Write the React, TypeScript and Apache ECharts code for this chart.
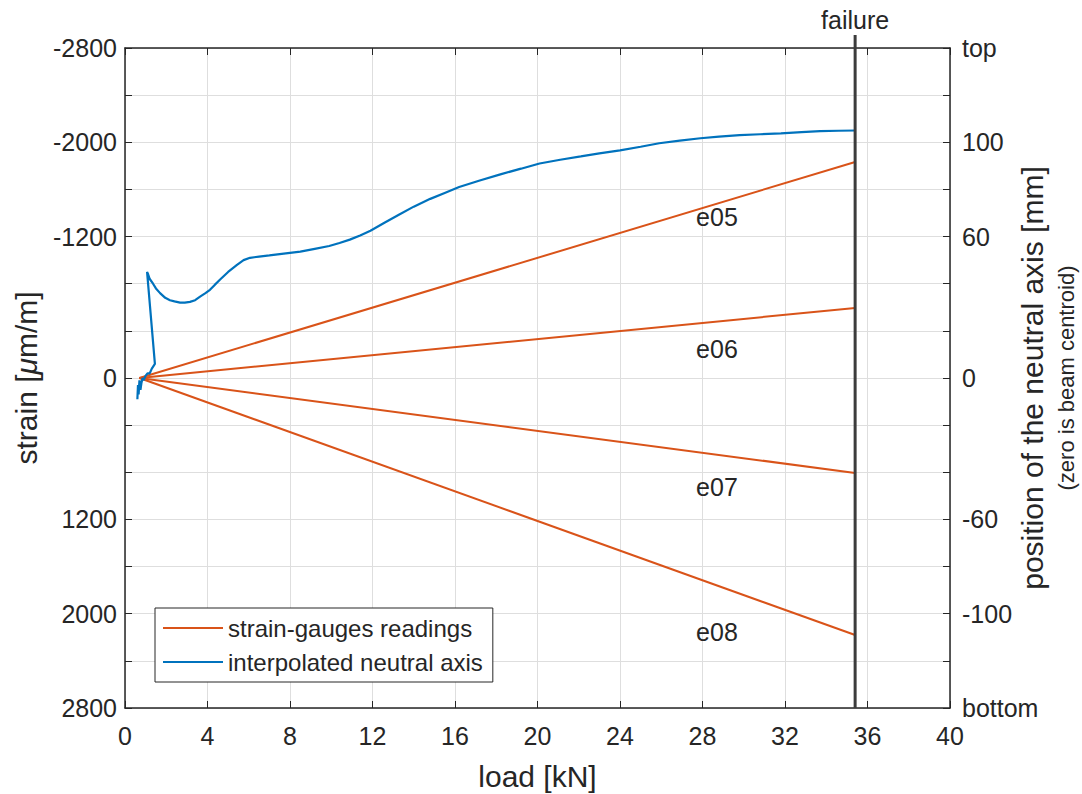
import React, { useEffect, useRef } from 'react';
import * as echarts from 'echarts';

// ---- data ----
const strainLabelValues = [-2800, -2000, -1200, 0, 1200, 2000, 2800];
const positionLabelValues = [-140, -100, -60, 0, 60, 100, 140];
const positionLabelTexts = ['bottom', '-100', '-60', '0', '60', '100', 'top'];

const gaugeNames = ['e05', 'e06', 'e07', 'e08'];
const gaugeStartLoad = 0.7;
const gaugeEndLoad = 35.4;
const gaugeStartStrain = [0, 0, 0, 0];
const gaugeEndStrain = [-1833, -594, 806, 2181];
const gaugeLabelLoad = 28.7;
const gaugeLabelStrain = [-1366, -246, 925, 2155];

const failureLoad = 35.4;
const failureTopStrain = -2910;
const failureBottomStrain = 2800;

const naLoad = [0.6, 0.63, 0.66, 0.7, 0.75, 0.8, 0.85, 0.9, 1.0, 1.1, 1.2, 1.3, 1.45, 1.07, 1.12, 1.2, 1.36, 1.5, 1.7, 1.95, 2.18, 2.4, 2.67, 2.9, 3.15, 3.4, 3.64, 3.9, 4.12, 4.35, 4.6, 5.0, 5.43, 5.75, 6.06, 6.5, 7.0, 7.7, 8.5, 9.2, 9.9, 10.4, 10.9, 11.4, 11.9, 12.6, 13.3, 14.0, 14.8, 15.5, 16.2, 17.2, 18.2, 19.2, 20.1, 21.1, 22.1, 23.0, 24.0, 25.0, 25.9, 26.9, 27.9, 28.8, 29.8, 30.8, 31.8, 32.8, 33.7, 34.6, 35.4];
const naPos = [-9, -3, -7, -1, -5, -2, 0, -1, 1, 2, 2, 4, 6, 45, 44, 42, 40, 38, 36, 34, 33, 32.5, 32, 32, 32.3, 33, 34.5, 36, 37.4, 39.5, 41.7, 45, 48, 50, 51, 51.5, 52, 52.8, 53.6, 54.8, 56, 57.3, 58.7, 60.5, 62.5, 66, 69.4, 72.7, 76, 78.5, 81, 83.8, 86.4, 88.8, 91, 92.6, 94, 95.3, 96.6, 98.1, 99.6, 100.7, 101.7, 102.4, 103, 103.4, 103.8, 104.3, 104.7, 104.9, 105];

const ORANGE = '#D95319';
const BLUE = '#0072BD';
const INK = '#262626';
const GRID = '#dedede';
const FONT = '"Liberation Sans", Arial, Helvetica, sans-serif';

export default function App() {
  const ref = useRef<HTMLDivElement>(null);
  useEffect(() => {
    if (!ref.current) return;
    const chart = echarts.init(ref.current, undefined, { renderer: 'svg' });
    const tickStyle = { show: true, inside: true, length: 7, lineStyle: { color: INK, width: 1 } };
    const gaugeSeries = gaugeNames.map((n, i) => ({
      type: 'line',
      name: 'strain-gauges readings',
      xAxisIndex: 0,
      yAxisIndex: 0,
      symbol: 'none',
      lineStyle: { color: ORANGE, width: 2 },
      itemStyle: { color: ORANGE },
      data: [[gaugeStartLoad, gaugeStartStrain[i]], [gaugeEndLoad, gaugeEndStrain[i]]],
      z: 3,
    }));
    const option: any = {
      animation: false,
      backgroundColor: '#ffffff',
      textStyle: { fontFamily: FONT, color: INK },
      grid: { left: 125, right: 132, top: 48, bottom: 86, containLabel: false, outerBoundsMode: 'none' },
      legend: {
        data: ['strain-gauges readings', 'interpolated neutral axis'],
        orient: 'vertical',
        left: 155,
        top: 608,
        padding: [8, 10, 8, 8],
        itemGap: 10,
        itemWidth: 60,
        itemHeight: 2,
        icon: 'rect',
        borderColor: INK,
        borderWidth: 1,
        backgroundColor: '#ffffff',
        textStyle: { fontSize: 24, color: INK, fontFamily: FONT },
        selectedMode: false,
      },
      xAxis: [
        {
          type: 'value', position: 'bottom', min: 0, max: 40, interval: 4,
          name: 'load [kN]', nameLocation: 'middle', nameGap: 53, nameMoveOverlap: false,
          nameTextStyle: { fontSize: 30, color: INK, fontFamily: FONT },
          axisLine: { show: true, onZero: false, lineStyle: { color: INK, width: 1.5 } },
          axisTick: tickStyle,
          axisLabel: { fontSize: 25, color: INK, margin: 15, fontFamily: FONT },
          splitLine: { show: true, lineStyle: { color: GRID, width: 1 } },
        },
        {
          type: 'value', position: 'top', min: 0, max: 40, interval: 4,
          axisLine: { show: true, onZero: false, lineStyle: { color: INK, width: 1.5 } },
          axisTick: tickStyle,
          axisLabel: { show: false },
          splitLine: { show: false },
        },
      ],
      yAxis: [
        {
          type: 'value', position: 'left', min: -2800, max: 2800, interval: 400, inverse: true,
          name: '{a|strain [}{b|μ}{a|m/m]}', nameLocation: 'middle', nameGap: 84, nameRotate: 90, nameMoveOverlap: false,
          nameTextStyle: {
            rich: {
              a: { fontSize: 30, color: INK, fontFamily: FONT },
              b: { fontSize: 30, color: INK, fontFamily: FONT, fontStyle: 'italic' },
            },
          },
          axisLine: { show: true, onZero: false, lineStyle: { color: INK, width: 1.5 } },
          axisTick: tickStyle,
          axisLabel: {
            fontSize: 25, color: INK, margin: 8, fontFamily: FONT, showMinLabel: true, showMaxLabel: true,
            formatter: (v: number) => (strainLabelValues.indexOf(v) >= 0 ? String(v) : ''),
          },
          splitLine: { show: true, lineStyle: { color: GRID, width: 1 } },
        },
        {
          type: 'value', position: 'right', min: -140, max: 140, interval: 20,
          name: '{a|position of the neutral axis [mm]}\n{b|(zero is beam centroid)}',
          nameLocation: 'middle', nameGap: 63, nameRotate: 90, nameMoveOverlap: false,
          nameTextStyle: {
            align: 'center',
            rich: {
              a: { fontSize: 30, color: INK, fontFamily: FONT, lineHeight: 38, align: 'center' },
              b: { fontSize: 22, color: INK, fontFamily: FONT, lineHeight: 30, align: 'center' },
            },
          },
          axisLine: { show: true, onZero: false, lineStyle: { color: INK, width: 1.5 } },
          axisTick: tickStyle,
          axisLabel: {
            fontSize: 25, color: INK, margin: 12, fontFamily: FONT, showMinLabel: true, showMaxLabel: true,
            formatter: (v: number) => {
              const k = positionLabelValues.indexOf(v);
              return k >= 0 ? positionLabelTexts[k] : '';
            },
          },
          splitLine: { show: false },
        },
      ],
      series: [
        ...gaugeSeries,
        {
          type: 'line',
          name: 'interpolated neutral axis',
          xAxisIndex: 0,
          yAxisIndex: 1,
          symbol: 'none',
          lineStyle: { color: BLUE, width: 2.2 },
          itemStyle: { color: BLUE },
          data: naLoad.map((x, i) => [x, naPos[i]]),
          z: 4,
        },
        {
          type: 'line',
          name: 'failure',
          xAxisIndex: 0,
          yAxisIndex: 0,
          symbol: 'none',
          clip: false,
          silent: true,
          lineStyle: { color: '#3c3c3c', width: 3 },
          data: [[failureLoad, failureTopStrain], [failureLoad, failureBottomStrain]],
          z: 5,
        },
        {
          type: 'scatter',
          name: 'failureLabel',
          xAxisIndex: 0,
          yAxisIndex: 0,
          symbolSize: 0,
          clip: false,
          silent: true,
          itemStyle: { opacity: 1 },
          data: [[failureLoad, failureTopStrain]],
          label: { show: true, position: 'top', distance: 3, formatter: 'failure', fontSize: 25, color: INK, fontFamily: FONT, opacity: 1 },
        },
        {
          type: 'scatter',
          name: 'gaugeLabels',
          xAxisIndex: 0,
          yAxisIndex: 0,
          symbolSize: 0,
          silent: true,
          itemStyle: { opacity: 1 },
          data: gaugeLabelStrain.map((s, i) => ({ value: [gaugeLabelLoad, s], name: gaugeNames[i] })),
          label: { show: true, position: 'inside', formatter: (p: any) => p.name, fontSize: 25, color: INK, fontFamily: FONT, opacity: 1 },
          z: 6,
        },
      ],
    };
    chart.setOption(option);
    return () => chart.dispose();
  }, []);
  return <div ref={ref} style={{ position: 'fixed', left: 0, top: 0, width: 1082, height: 794 }} />;
}
